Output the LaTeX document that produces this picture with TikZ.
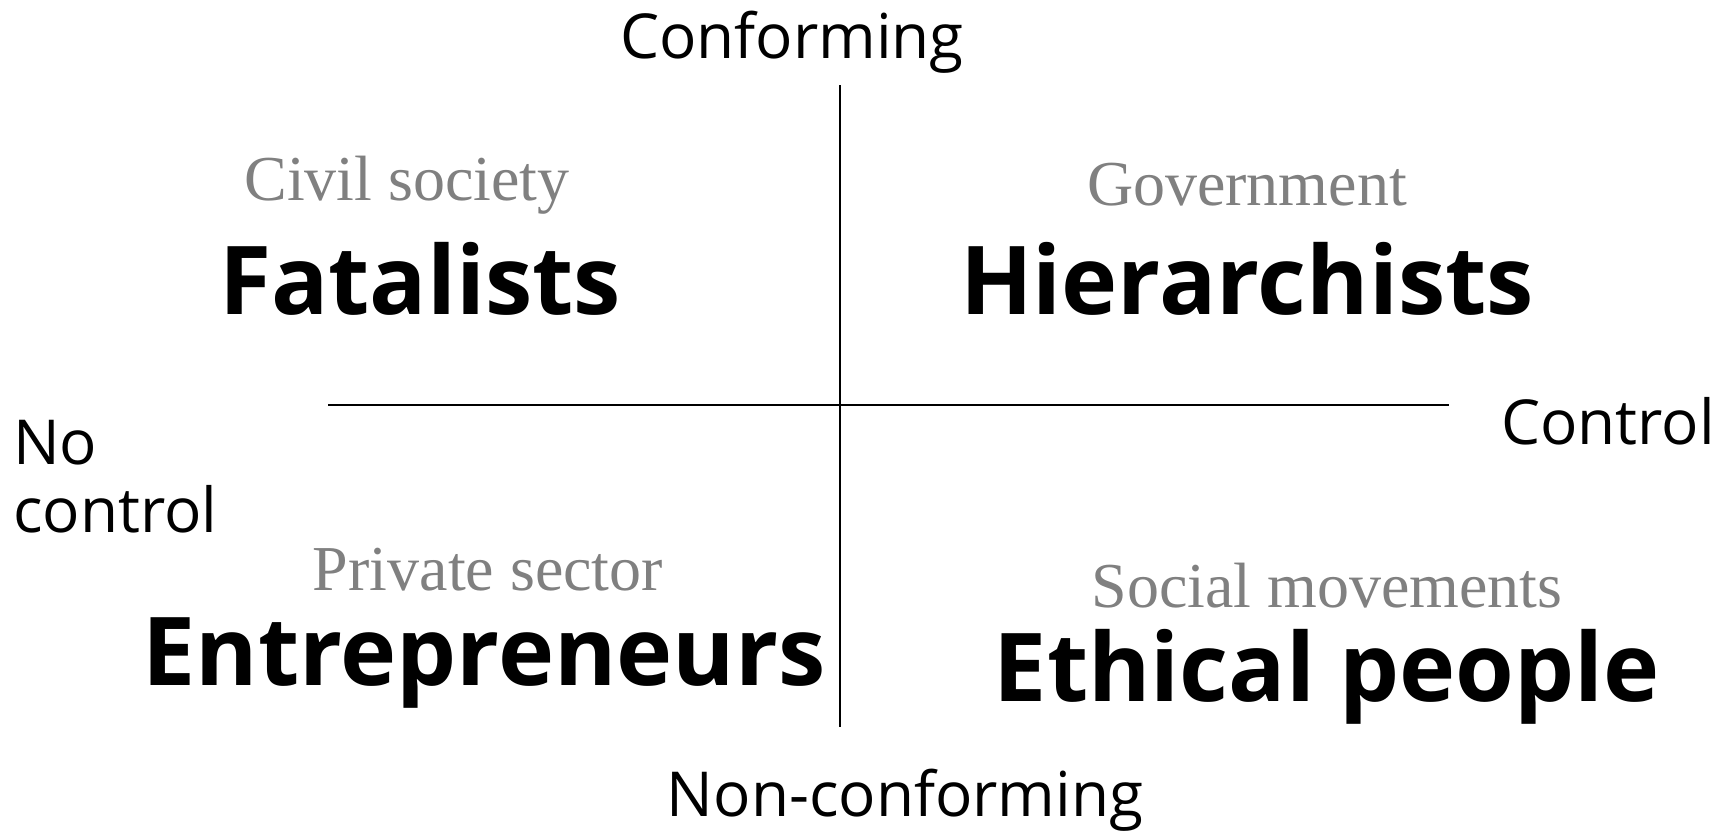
\documentclass[tikz,border=0pt]{standalone}
\usepackage{fontspec}
\setmainfont{Open Sans}
\newfontfamily\sectorfont{Liberation Serif}
\usetikzlibrary{positioning}
\tikzset{
	axislabel/.style={font=\fontsize{62}{68}\selectfont, text=black, inner sep=0pt},
	grouplabel/.style={font=\fontsize{95}{100}\selectfont\bfseries, text=black, inner sep=0pt},
	sectorlabel/.style={font=\fontsize{64}{70}\sectorfont, text=black!50, inner sep=0pt}
}
\begin{document}
\begin{tikzpicture}[x=1pt, y=-1pt]
		%%%%% START %%%%%
		\useasboundingbox[fill=white] (0, 0) rectangle (1734, 838);
		
		\coordinate (top) at (840, 85);
		\coordinate (bottom) at (840, 727);
		\coordinate (left) at (328, 405);
		\coordinate (right) at (1449, 405);
		
		\draw[line width=1.6pt] (top) -- (bottom);
		\draw[line width=1.6pt] (left) -- (right);
		
		\node[axislabel] (conforming) at (792, 42) {Conforming};
		\node[axislabel] (nonconforming) at (905, 800) {Non-conforming};
		\node[axislabel] (control) at (1608, 421) {Control};
		\node[axislabel, align=left, anchor=west] (nocontrol) at (13, 477) {No\\control};
		
		\node[sectorlabel] (civil) at (407, 185) {Civil society};
		\node[grouplabel] (fatalists) at (420, 279) {Fatalists};
		
		\node[sectorlabel] (government) at (1247, 185) {Government};
		\node[grouplabel] (hierarchists) at (1247, 279) {Hierarchists};
		
		\node[sectorlabel] (private) at (488, 570) {Private sector};
		\node[grouplabel] (entrepreneurs) at (484, 663) {Entrepreneurs};
		
		\node[sectorlabel] (social) at (1327, 586) {Social movements};
		\node[grouplabel] (ethical) at (1327, 677) {Ethical people};
		%%%%% END %%%%%
\end{tikzpicture}
\end{document}
